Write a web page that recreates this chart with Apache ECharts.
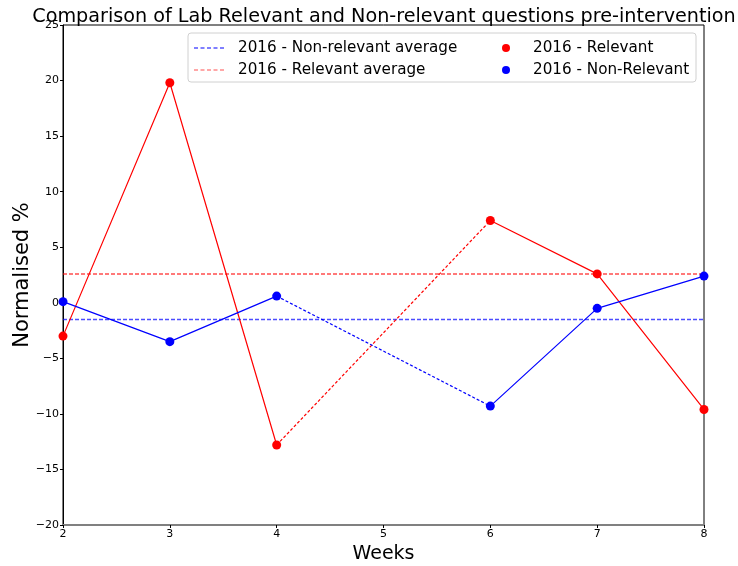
<!DOCTYPE html>
<html><head><meta charset="utf-8">
<script src="https://cdn.jsdelivr.net/npm/echarts@6/dist/echarts.min.js"></script>
<style>html,body{margin:0;padding:0;background:#fff}#c{width:738px;height:566px}</style>
</head><body><div id="c"></div>
<script>
const weeks = [2, 3, 4, 6, 7, 8];
const relevant = [-3.0, 19.8, -12.8, 7.4, 2.6, -9.6];
const nonRelevant = [0.1, -3.5, 0.6, -9.3, -0.5, 2.4];
const relevantAvg = 2.6;
const nonRelevantAvg = -1.5;
const xRange = [2, 8];
const yRange = [-20, 25];
const title = 'Comparison of Lab Relevant and Non-relevant questions pre-intervention';

const pts = (vals) => weeks.map((w, i) => [w, vals[i]]);
const rel = pts(relevant), nonRel = pts(nonRelevant);
const FONT = 'DejaVu Sans';
const dashIcon = 'path://M0,0h4v1h-4z M6.5,0h4v1h-4z M13,0h4v1h-4z M19.5,0h4v1h-4z M26,0h4v1h-4z';

function segs(p, color, name) {
  return [
    {type:'line', name:name+'a', data:p.slice(0,3), symbol:'none', lineStyle:{color:color,width:1.2}, z:2, silent:true},
    {type:'line', name:name+'b', data:p.slice(2,4), symbol:'none', lineStyle:{color:color,width:1.2,type:[3,2]}, z:2, silent:true},
    {type:'line', name:name+'c', data:p.slice(3), symbol:'none', lineStyle:{color:color,width:1.2}, z:2, silent:true}
  ];
}

const chart = echarts.init(document.getElementById('c'));
chart.setOption({
  animation:false,
  title:{text:title, left:379, textAlign:'center', top:3, textStyle:{fontFamily:FONT,fontSize:19.2,fontWeight:'normal',color:'#000'}},
  grid:{left:63, right:34, top:25, bottom:41, show:true, borderColor:'#000', borderWidth:1, containLabel:false, outerBoundsMode:'none'},
  graphic:[{type:'rect', shape:{x:188, y:33, width:508, height:49, r:3}, style:{fill:'rgba(255,255,255,0.85)', stroke:'#d0d0d0', lineWidth:1}, z:50}],
  legend:[
    {left:189, top:35, orient:'vertical', itemGap:6, itemWidth:30, itemHeight:1.2, z:60,
     data:[{name:'2016 - Non-relevant average',icon:dashIcon},{name:'2016 - Relevant average',icon:dashIcon}],
     textStyle:{fontFamily:FONT,fontSize:15.2,color:'#000',padding:[0,0,0,9],height:16,lineHeight:16}},
    {left:497, top:35, orient:'vertical', itemGap:6, itemWidth:8, itemHeight:8, z:60,
     data:[{name:'2016 - Relevant',icon:'circle'},{name:'2016 - Non-Relevant',icon:'circle'}],
     textStyle:{fontFamily:FONT,fontSize:15.2,color:'#000',padding:[0,0,0,18],height:16,lineHeight:16}}
  ],
  xAxis:{type:'value', min:xRange[0], max:xRange[1], interval:1, splitLine:{show:false},
    name:'Weeks', nameLocation:'middle', nameGap:20, nameMoveOverlap:false, nameTextStyle:{fontFamily:FONT,fontSize:19,color:'#000'},
    axisLine:{onZero:false, lineStyle:{color:'#808080',width:2}}, axisTick:{length:3,lineStyle:{color:'#000'}},
    axisLabel:{fontFamily:FONT,fontSize:11,color:'#000',margin:4}},
  yAxis:{type:'value', min:yRange[0], max:yRange[1], interval:5, splitLine:{show:false},
    name:'Normalised %', nameLocation:'middle', nameGap:30, nameMoveOverlap:false, nameTextStyle:{fontFamily:FONT,fontSize:21,color:'#000'},
    axisLine:{show:true,onZero:false,lineStyle:{color:'#000',width:1}}, axisTick:{show:true,length:3,lineStyle:{color:'#000'}},
    axisLabel:{fontFamily:FONT,fontSize:11,color:'#000',margin:4, formatter:v=>String(v).replace('-','\u2212')}},
  series:[
    {type:'line', name:'2016 - Non-relevant average', data:[[xRange[0],nonRelevantAvg],[xRange[1],nonRelevantAvg]], symbol:'none',
     lineStyle:{color:'rgba(0,0,255,0.7)',width:1.5,type:[4,2]}, itemStyle:{color:'#0000ff'}, z:1},
    {type:'line', name:'2016 - Relevant average', data:[[xRange[0],relevantAvg],[xRange[1],relevantAvg]], symbol:'none',
     lineStyle:{color:'rgba(255,0,0,0.7)',width:1.5,type:[4,2]}, itemStyle:{color:'rgba(255,80,80,1)'}, z:1},
    ...segs(rel,'#ff0000','r'),
    ...segs(nonRel,'#0000ff','n'),
    {type:'scatter', name:'2016 - Relevant', data:rel, symbolSize:9, itemStyle:{color:'#ff0000',opacity:1}, z:5},
    {type:'scatter', name:'2016 - Non-Relevant', data:nonRel, symbolSize:9, itemStyle:{color:'#0000ff',opacity:1}, z:5}
  ]
});
</script></body></html>
